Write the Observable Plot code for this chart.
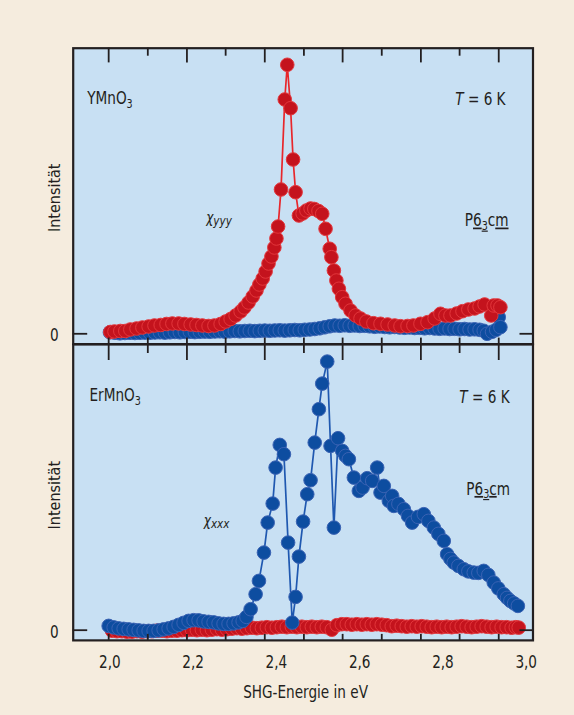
<!DOCTYPE html>
<html><head><meta charset="utf-8">
<script src="https://cdn.jsdelivr.net/npm/d3@7"></script>
<script src="https://cdn.jsdelivr.net/npm/@observablehq/plot@0.6"></script>
<style>
html,body{margin:0;padding:0;background:#f5ecde;}
#chart{position:relative;width:574px;height:715px;background:#f5ecde;overflow:hidden;}
#chart svg{position:absolute;left:0;overflow:visible;background:transparent;}
</style></head><body><div id="chart"></div>
<script>
// ---------- data (x: SHG energy in eV, y: intensity in arbitrary units) ----------
const xDomain = [1.9118, 3.0163];
const majorTicks = [1.997, 2.185, 2.372, 2.559, 2.747, 2.934];
const minorTicks = [2.091, 2.278, 2.466, 2.653, 2.840];
const tickLabelValues = [2.0, 2.2, 2.4, 2.6, 2.8, 3.0];
const tickLabels = ["2,0", "2,2", "2,4", "2,6", "2,8", "3,0"];
const xTitle = "SHG-Energie in eV";
const yTitle = "Intensität";

// YMnO3, chi_yyy (red)
const ymnoRed = [[2.001,1.8],[2.011,2.3],[2.025,2.8],[2.037,2.8],[2.049,4.3],[2.064,5.3],[2.078,6.3],[2.093,7.3],[2.107,8.3],[2.122,8.8],[2.136,9.8],[2.150,10.3],[2.165,10.3],[2.179,9.8],[2.194,9.3],[2.208,8.8],[2.222,8.3],[2.237,7.8],[2.251,8.3],[2.266,9.8],[2.278,12.3],[2.290,14.8],[2.302,18.3],[2.314,22.3],[2.323,26.3],[2.333,31.3],[2.343,37.3],[2.352,43.3],[2.359,49.3],[2.367,55.3],[2.374,62.3],[2.381,70.3],[2.388,77.3],[2.395,86.3],[2.400,95.3],[2.404,107.3],[2.411,144.3],[2.420,234.3],[2.426,269],[2.434,225.6],[2.440,174.3],[2.446,141.6],[2.454,118.3],[2.463,120.3],[2.472,123.3],[2.482,125.3],[2.491,124.8],[2.501,122.8],[2.510,120],[2.518,105],[2.528,85],[2.532,76.6],[2.538,63.3],[2.544,53.3],[2.550,45],[2.558,36.6],[2.566,30],[2.578,23.3],[2.590,18.3],[2.602,15.3],[2.616,12.3],[2.633,10.6],[2.650,10],[2.667,9.3],[2.684,8.3],[2.698,7.6],[2.715,7.8],[2.729,8.3],[2.746,10],[2.763,11.6],[2.780,15.3],[2.794,20],[2.806,18.3],[2.818,18.3],[2.833,20.3],[2.847,22.6],[2.861,24.3],[2.876,25.3],[2.888,27.3],[2.900,29.3],[2.916,18.3],[2.922,28.3],[2.931,28.3],[2.938,26.6]];
// YMnO3, other polarisation (blue)
const ymnoBlue = [[2.000,1.5],[2.012,1.0],[2.024,0.5],[2.036,0.8],[2.048,1.0],[2.060,0.8],[2.072,1.0],[2.084,1.2],[2.096,1.0],[2.108,1.3],[2.120,1.5],[2.132,1.2],[2.144,1.5],[2.156,1.8],[2.168,1.5],[2.180,1.8],[2.192,2.0],[2.204,1.7],[2.216,2.0],[2.228,2.2],[2.240,2.0],[2.252,2.3],[2.264,2.5],[2.276,2.2],[2.288,2.5],[2.300,2.8],[2.312,2.5],[2.324,2.8],[2.336,3.0],[2.348,2.7],[2.360,3.0],[2.372,3.2],[2.384,3.0],[2.396,3.3],[2.408,3.5],[2.420,3.2],[2.432,3.5],[2.444,3.8],[2.456,3.5],[2.468,4.0],[2.480,4.3],[2.492,4.8],[2.504,5.5],[2.516,6.5],[2.528,7.5],[2.540,8.3],[2.552,8.0],[2.564,8.5],[2.576,8.0],[2.588,8.3],[2.600,7.8],[2.612,8.0],[2.624,7.5],[2.636,7.0],[2.648,7.3],[2.660,6.8],[2.672,6.5],[2.684,6.8],[2.696,6.3],[2.708,6.0],[2.720,6.3],[2.732,5.8],[2.744,6.0],[2.756,5.5],[2.768,5.8],[2.780,5.3],[2.792,5.0],[2.804,5.3],[2.816,4.8],[2.828,5.0],[2.840,4.5],[2.852,4.8],[2.864,4.3],[2.876,4.5],[2.888,4.0],[2.898,3.0],[2.906,0.0],[2.918,2.0],[2.928,4.0],[2.934,16.6],[2.938,6.6]];
// ErMnO3, chi_xxx (blue)
const ermnoBlue = [[1.997,4.3],[2.009,2.8],[2.021,1.8],[2.033,1.3],[2.045,0.8],[2.057,0.3],[2.069,-0.2],[2.081,-0.7],[2.093,-0.7],[2.105,-0.7],[2.117,-0.2],[2.129,0.8],[2.141,1.8],[2.153,3.3],[2.165,5.3],[2.177,7.3],[2.189,9.3],[2.201,10],[2.213,9.8],[2.225,8.8],[2.237,8.3],[2.249,7.8],[2.261,6.8],[2.273,6.3],[2.285,6.3],[2.297,6.8],[2.309,7.8],[2.319,9.3],[2.328,13.3],[2.338,21],[2.350,36],[2.358,49.3],[2.370,77.6],[2.379,107.6],[2.391,126.6],[2.398,162.6],[2.408,185.3],[2.418,176],[2.428,87.6],[2.438,7.6],[2.446,33.3],[2.454,73.6],[2.464,108.6],[2.474,136],[2.482,150],[2.492,187.6],[2.502,221],[2.510,246.6],[2.522,268.6],[2.530,184.3],[2.538,102.6],[2.548,192],[2.558,179.3],[2.566,174.3],[2.574,171],[2.586,152.6],[2.598,139.3],[2.607,142.6],[2.618,152],[2.630,149.3],[2.642,162.6],[2.650,137.6],[2.658,144.3],[2.670,129.3],[2.678,134.3],[2.682,124.3],[2.693,126.3],[2.706,121],[2.716,114.3],[2.726,107.6],[2.740,113.3],[2.754,116],[2.765,109.3],[2.778,102.6],[2.789,96.3],[2.802,89.3],[2.810,76],[2.818,71.3],[2.826,67.6],[2.837,64.3],[2.850,61],[2.861,58.8],[2.874,57.6],[2.885,57.3],[2.898,59.3],[2.909,55.3],[2.922,47.6],[2.933,41.8],[2.946,36],[2.954,32.3],[2.962,29.3],[2.971,26.8],[2.980,24.3]];
// ErMnO3, other polarisation (red)
const ermnoRed = [[2.005,-0.5],[2.017,-1.0],[2.029,-1.0],[2.041,-1.5],[2.053,-1.5],[2.065,-1.0],[2.077,-1.5],[2.089,-1.0],[2.101,-1.0],[2.113,-0.5],[2.125,-0.5],[2.137,-1.0],[2.149,-0.5],[2.161,-0.5],[2.173,0],[2.185,0],[2.197,0.5],[2.209,0],[2.221,0.5],[2.233,0],[2.245,0.5],[2.257,1.0],[2.269,0.5],[2.281,1.0],[2.293,1.5],[2.305,2.0],[2.317,1.5],[2.329,2.0],[2.341,2.5],[2.353,2.0],[2.365,2.5],[2.377,3.0],[2.389,2.5],[2.401,3.0],[2.413,3.5],[2.425,3.0],[2.437,3.5],[2.449,3.0],[2.461,3.5],[2.473,3.0],[2.485,3.5],[2.497,3.0],[2.509,3.5],[2.521,3.0],[2.533,0.5],[2.545,5.0],[2.557,6.0],[2.569,6.0],[2.581,5.5],[2.593,6.0],[2.605,5.5],[2.617,6.0],[2.629,5.5],[2.641,6.0],[2.653,5.5],[2.665,5.0],[2.677,4.0],[2.689,4.5],[2.701,4.0],[2.713,3.5],[2.725,4.0],[2.737,3.5],[2.749,4.0],[2.761,3.5],[2.773,3.0],[2.785,3.5],[2.797,3.0],[2.809,3.5],[2.821,3.0],[2.833,3.5],[2.845,4.0],[2.857,3.5],[2.869,3.0],[2.881,3.5],[2.893,4.0],[2.905,3.5],[2.917,3.0],[2.929,3.5],[2.941,3.0],[2.953,3.0],[2.965,2.5],[2.975,3.0],[2.982,2.6]];

// annotations (position in data units)
const topNotes = [
  {x: 1.9455, y: 229.8, key: "YMnO3", anchor: "start"},
  {x: 2.9503, y: 228.3, key: "T6K", anchor: "end"},
  {x: 2.8525, y: 107.3, key: "P63cm_a", anchor: "start"},
  {x: 2.2313, y: 111, key: "chiyyy", anchor: "start", italic: true}
];
const bottomNotes = [
  {x: 1.951, y: 229.3, key: "ErMnO3", anchor: "start"},
  {x: 2.960, y: 227, key: "T6K", anchor: "end"},
  {x: 2.856, y: 135.3, key: "P63cm_b", anchor: "start"},
  {x: 2.2256, y: 104.3, key: "chixxx", anchor: "start", italic: true}
];

const RICH = {
  YMnO3: 'YMnO<tspan dy="4" font-size="12">3</tspan>',
  ErMnO3: 'ErMnO<tspan dy="4" font-size="12">3</tspan>',
  T6K: '<tspan font-style="italic">T</tspan> = 6 K',
  chiyyy: 'χ<tspan dy="2" font-size="13">yyy</tspan>',
  chixxx: 'χ<tspan dy="2" font-size="13">xxx</tspan>',
  P63cm_a: 'P<tspan style="text-decoration:underline">6</tspan><tspan dy="3" font-size="12" style="text-decoration:underline">3</tspan><tspan dy="-3">c</tspan><tspan style="text-decoration:underline">m</tspan>',
  P63cm_b: 'P<tspan style="text-decoration:underline">6</tspan><tspan dy="3" font-size="12" style="text-decoration:underline">3</tspan><tspan dy="-3" style="text-decoration:underline">c</tspan>m'
};

// ---------- styling ----------
const FONT = '"Liberation Sans Narrow","DejaVu Sans Condensed","Roboto Condensed","Liberation Sans",sans-serif';
const INK = "#231f20";
const PANEL_BG = "#c8e0f3";
const RED = {fill: "#c4131d", stroke: "#e2363b", line: "#e8262b"};
const BLUE = {fill: "#0d4da0", stroke: "#3a62b3", line: "#1f58b0"};
const H = 295.9;
const W = 459.8;

function seriesMarks(data, c) {
  return [
    Plot.line(data, {x: d => d[0], y: d => d[1], stroke: c.line, strokeWidth: 1.7}),
    Plot.dot(data, {x: d => d[0], y: d => d[1], r: 6.8, fill: c.fill, stroke: c.stroke, strokeWidth: 1})
  ];
}

function notes(list) {
  return [
    Plot.text(list.filter(d => d.anchor === "start" && !d.italic), {x: "x", y: "y", text: "key", textAnchor: "start", lineAnchor: "bottom", fontSize: 17, fill: INK}),
    Plot.text(list.filter(d => d.anchor === "end"), {x: "x", y: "y", text: "key", textAnchor: "end", lineAnchor: "bottom", fontSize: 17, fill: INK}),
    Plot.text(list.filter(d => d.italic), {x: "x", y: "y", text: "key", textAnchor: "start", lineAnchor: "bottom", fontSize: 15, fontStyle: "italic", fill: INK})
  ];
}

function panel(cfg) {
  return Plot.plot({
    width: 574,
    height: cfg.marginTop + H + cfg.marginBottom,
    marginLeft: 72.7, marginRight: 41.5,
    marginTop: cfg.marginTop, marginBottom: cfg.marginBottom,
    x: {domain: xDomain, axis: null},
    y: {domain: cfg.yDomain, axis: null},
    style: {fontFamily: FONT, color: INK, background: "transparent", overflow: "visible"},
    marks: [
      Plot.frame({fill: PANEL_BG, stroke: null}),
      ...cfg.series,
      ...notes(cfg.notes),
      Plot.ruleX(majorTicks, {x: d => d, insetBottom: H - cfg.longTick, stroke: INK, strokeWidth: 1.8}),
      Plot.ruleX(minorTicks, {x: d => d, insetBottom: H - cfg.shortTick, stroke: INK, strokeWidth: 1.8}),
      Plot.ruleX([...majorTicks, ...minorTicks], {x: d => d, insetTop: H - 6, stroke: INK, strokeWidth: 1.8}),
      Plot.ruleY([0], {y: d => d, insetRight: W - 14.5, stroke: INK, strokeWidth: 1.8}),
      Plot.ruleY([0], {y: d => d, insetLeft: W - 13, stroke: INK, strokeWidth: 1.8}),
      Plot.frame({stroke: INK, strokeWidth: 2.2}),
      Plot.text([0], {y: d => d, text: () => "0", frameAnchor: "left", dx: -19, dy: 2, textAnchor: "middle", fontSize: 17, fill: INK}),
      Plot.text([cfg.yTitleAt], {y: d => d, text: () => yTitle, frameAnchor: "left", dx: -18, rotate: -90, textAnchor: "middle", fontSize: 16, fill: INK}),
      ...(cfg.extra || [])
    ]
  });
}

const topPlot = panel({
  marginTop: 47.7, marginBottom: 0, yDomain: [-10.3, 285.6],
  series: [...seriesMarks(ymnoBlue, BLUE), ...seriesMarks(ymnoRed, RED)],
  notes: topNotes, longTick: 14.7, shortTick: 8, yTitleAt: 136
});
const bottomPlot = panel({
  marginTop: 0, marginBottom: 75.5, yDomain: [-10.2, 285.7],
  series: [...seriesMarks(ermnoRed, RED), ...seriesMarks(ermnoBlue, BLUE)],
  notes: bottomNotes, longTick: 16, shortTick: 9, yTitleAt: 135,
  extra: [
    Plot.text(tickLabelValues, {x: d => d, text: (d, i) => tickLabels[i], frameAnchor: "bottom", lineAnchor: "top", dy: 15.5, fontSize: 17, fill: INK}),
    Plot.text([xTitle], {x: () => 2.47, text: d => d, frameAnchor: "bottom", lineAnchor: "bottom", dy: 57.5, fontSize: 17, fill: INK})
  ]
});

const chart = document.getElementById("chart");
topPlot.style.top = "0px";
bottomPlot.style.top = "343.6px";
chart.appendChild(topPlot);
chart.appendChild(bottomPlot);

// rich text (subscripts, italics, underlines) and a condensed look for the labels
for (const svg of [topPlot, bottomPlot]) {
  svg.querySelectorAll("text").forEach(t => {
    const k = t.textContent;
    if (RICH[k]) t.innerHTML = RICH[k];
    const tr = t.getAttribute("transform");
    if (tr && tr.includes("translate") && !tr.includes("rotate")) {
      t.setAttribute("transform", tr + " scale(0.89,1)");
    }
  });
}
</script>
</body></html>
